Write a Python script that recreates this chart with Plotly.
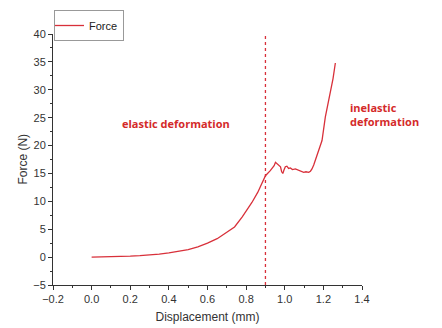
import plotly.graph_objects as go

disp = [0, 0.05, 0.1, 0.15, 0.2, 0.25, 0.3, 0.35, 0.4, 0.45, 0.5, 0.55, 0.6, 0.65, 0.7, 0.74,
        0.78, 0.8, 0.83, 0.86, 0.9, 0.925, 0.945, 0.952, 0.96, 0.97, 0.978, 0.984, 0.99, 0.996,
        1.003, 1.011, 1.02, 1.029, 1.04, 1.055, 1.068, 1.081, 1.09, 1.098, 1.11, 1.124,
        1.133, 1.141, 1.15, 1.158, 1.167, 1.176, 1.193, 1.21, 1.225, 1.236, 1.25, 1.262]
force = [0, 0.02, 0.05, 0.1, 0.18, 0.27, 0.38, 0.55, 0.75, 1.0, 1.35, 1.85, 2.5, 3.3, 4.4, 5.4,
         7.2, 8.2, 9.8, 11.6, 14.6, 15.5, 16.4, 17.0, 16.8, 16.5, 16.2, 15.3, 15.0, 15.6,
         16.2, 16.3, 15.9, 16.0, 15.7, 15.8, 15.6, 15.5, 15.4, 15.2, 15.3, 15.2,
         15.4, 15.8, 16.5, 17.3, 18.3, 19.1, 20.9, 25.1, 27.5, 29.3, 32.0, 34.8]
boundary_x = 0.9

red = "#d8303a"
text_red = "#d42a2a"

fig = go.Figure()
fig.add_trace(go.Scatter(x=disp, y=force, mode="lines", name="Force",
                         line=dict(color=red, width=1.3)))
fig.add_trace(go.Scatter(x=[boundary_x, boundary_x], y=[-5, 40], mode="lines",
                         showlegend=False, line=dict(color=red, width=1.3, dash="dot")))

fig.add_annotation(x=0.436, y=24.0, text="<b>elastic deformation</b>", showarrow=False,
                   font=dict(family="Open Sans, Liberation Sans", size=11, color=text_red))
fig.add_annotation(x=1.325, y=25.5, text="<b>inelastic<br>deformation</b>", showarrow=False,
                   xanchor="left", align="left",
                   font=dict(family="Open Sans, Liberation Sans", size=11, color=text_red))
# y axis title (left of the tick labels)
fig.add_annotation(x=-0.10, y=0.50, xref="paper", yref="paper",
                   xanchor="center", yanchor="middle",
                   text="Force (N)", textangle=-90, showarrow=False,
                   font=dict(family="Liberation Sans, Arial", size=12, color="#333"))

axis_common = dict(showgrid=False, zeroline=False, showline=True, linecolor="#333",
                   linewidth=1, ticks="outside", ticklen=4, tickcolor="#333",
                   tickfont=dict(family="Liberation Sans, Arial", size=11, color="#333"))

fig.update_layout(
    width=442, height=328,
    margin=dict(l=53, r=80, t=34, b=43, autoexpand=False),
    paper_bgcolor="white", plot_bgcolor="white",
    font=dict(family="Liberation Sans, Arial", size=12, color="#333"),
    xaxis=dict(range=[-0.2, 1.4], dtick=0.2, tickformat=".1f",
               minor=dict(ticks="outside", ticklen=2, dtick=0.1, tickcolor="#333"),
               title=dict(text="Displacement (mm)", font=dict(size=12), standoff=8),
               **axis_common),
    yaxis=dict(range=[-5, 40], dtick=5,
               minor=dict(ticks="outside", ticklen=2, dtick=2.5, tickcolor="#333"),
               **axis_common),
    legend=dict(x=54 / 442, y=1 - 10 / 328, xref="container", yref="container",
                xanchor="left", yanchor="top",
                bordercolor="#999", borderwidth=1, bgcolor="white",
                font=dict(size=11, color="#222"), itemwidth=30,
                tracegroupgap=0, indentation=-6),
    showlegend=True,
)

fig.write_html("out.html")
